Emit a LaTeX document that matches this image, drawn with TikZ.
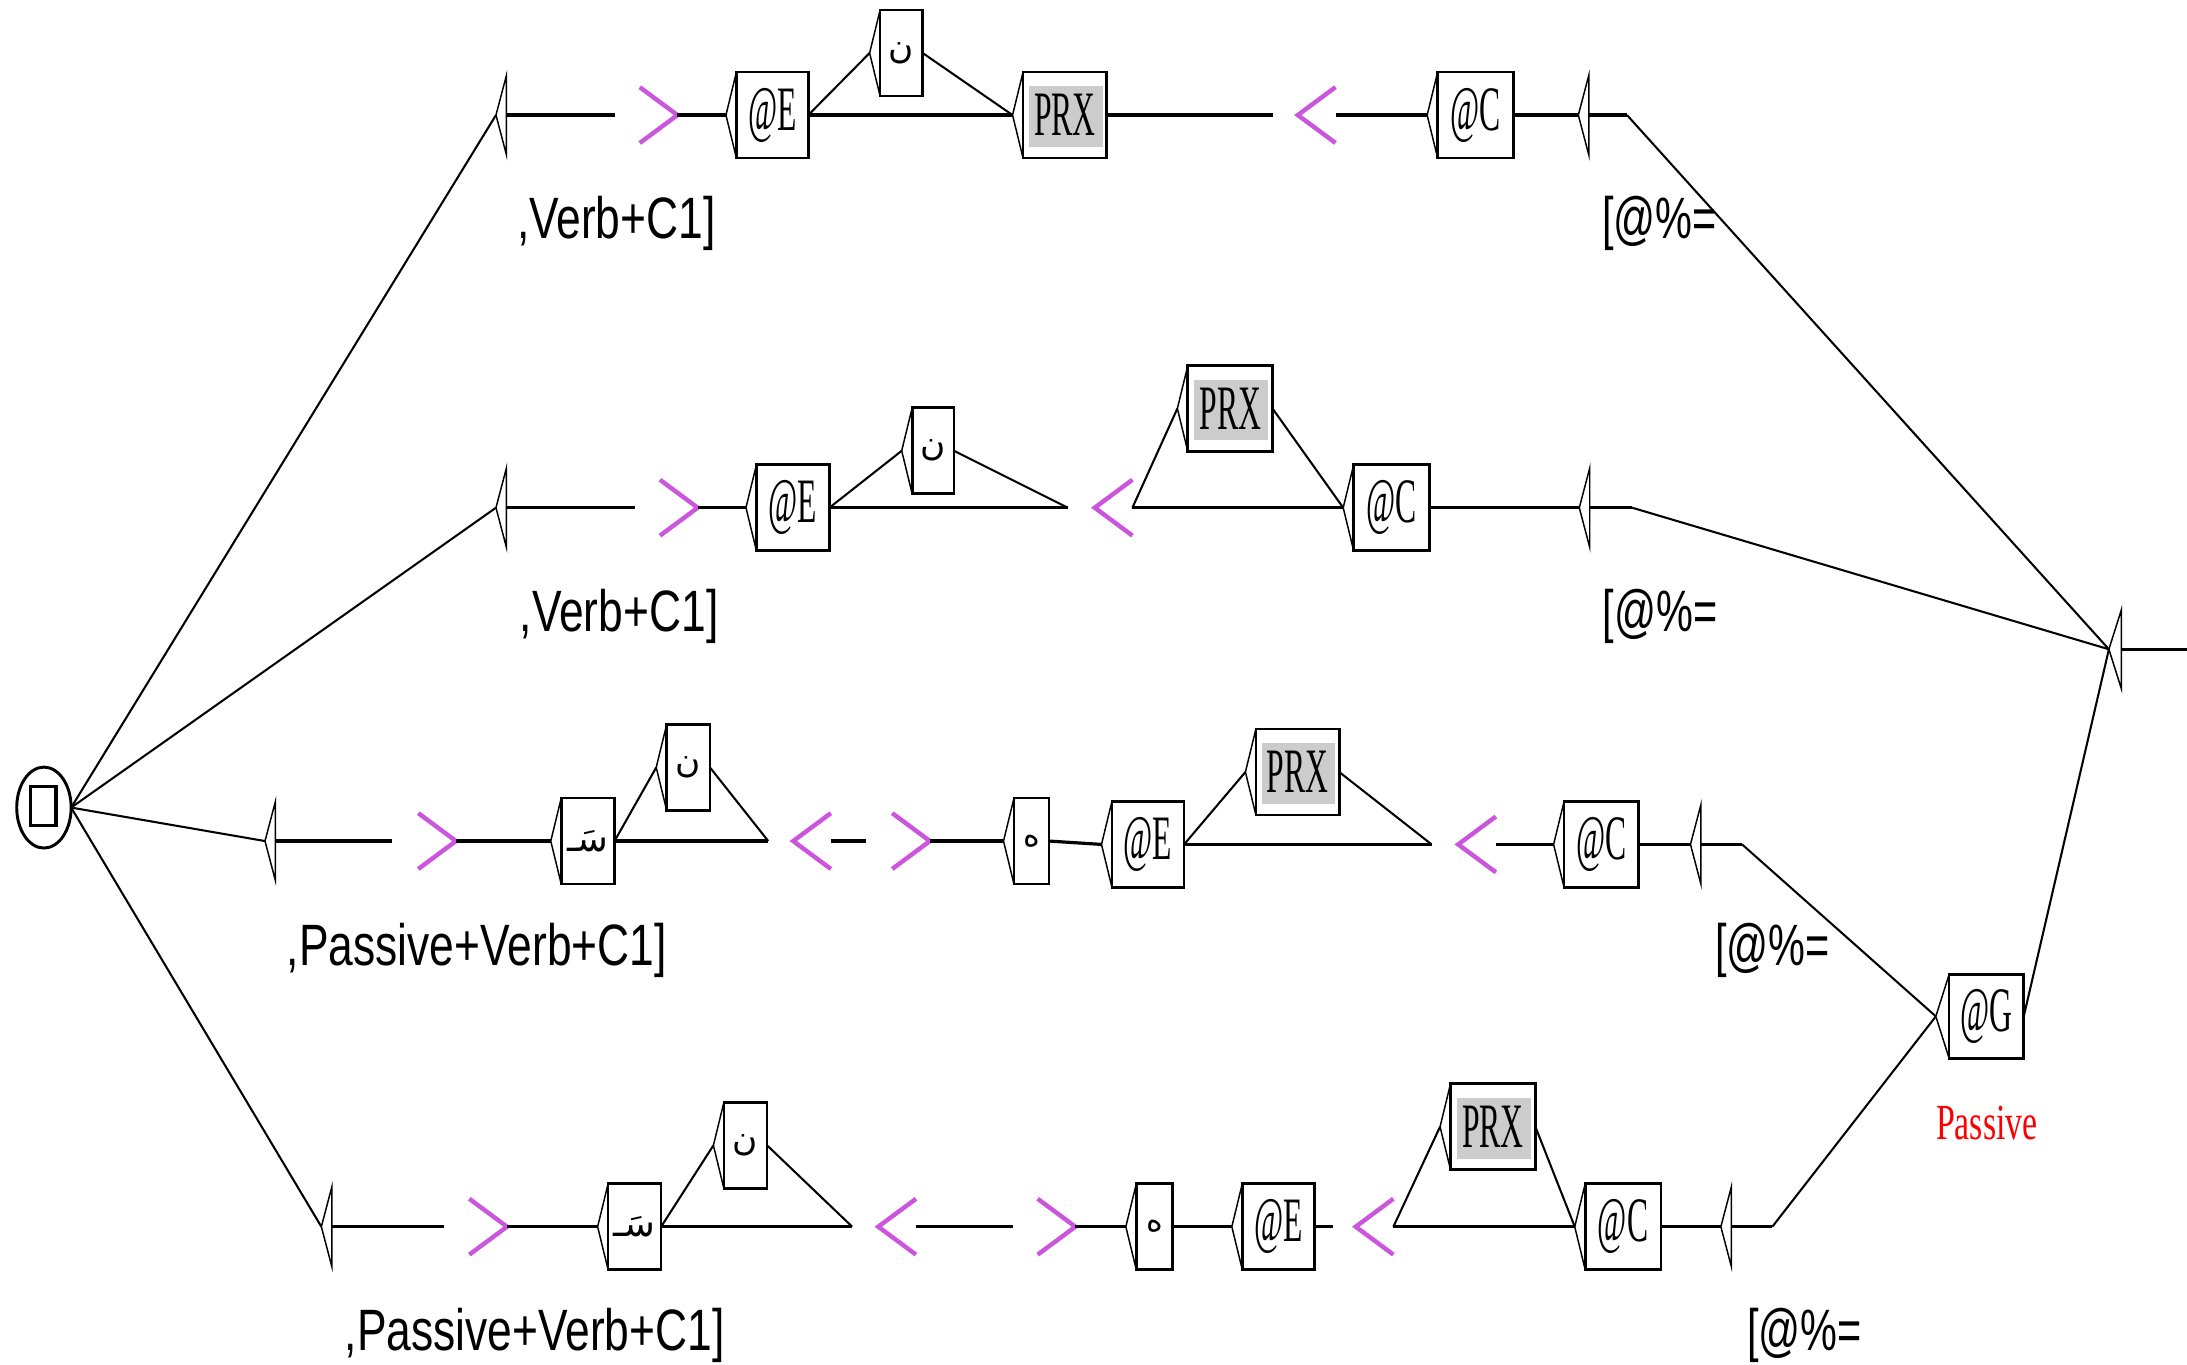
\documentclass[tikz,border=0pt]{standalone}
\usepackage{fontspec}
\usetikzlibrary{shapes.geometric}
\newfontfamily\outfont[FakeStretch=0.76]{Liberation Sans}
\newfontfamily\outfontb[FakeStretch=0.71]{Liberation Sans}
\newfontfamily\boxfont[FakeStretch=0.5]{Liberation Serif}
\newfontfamily\redfont[FakeStretch=0.67]{Liberation Serif}
\newfontfamily\arabicfont[Script=Arabic]{DejaVu Sans}
\TeXXeTstate=1
\definecolor{mpurple}{RGB}{204,85,221}
\definecolor{prxgray}{RGB}{204,204,204}
\newcommand\bx[5]{%
  \node[box, minimum width=#4] (#1) at (#2,#3) {#5};
  \coordinate (#1in) at ([xshift=-0.075cm]#1.west);
  \draw[tri] (#1.north west) -- (#1in) -- (#1.south west);}
\newcommand\abx[6]{%
  \node[box, font=\arabicfont\fontsize{#6}{8}\selectfont, minimum width=#4] (#1) at (#2,#3) {#5};
  \coordinate (#1in) at ([xshift=-0.075cm]#1.west);
  \draw[tri] (#1.north west) -- (#1in) -- (#1.south west);}
\newcommand\pbx[4]{%
  \node[box, minimum width=#4, path picture={\fill[prxgray] ([xshift=0.045cm,yshift=-0.10cm]path picture bounding box.north west) rectangle ([xshift=-0.03cm,yshift=0.08cm]path picture bounding box.south east);}] (#1) at (#2,#3) {PRX};
  \coordinate (#1in) at ([xshift=-0.075cm]#1.west);
  \draw[tri] (#1.north west) -- (#1in) -- (#1.south west);}
\newcommand\gtb[3]{%
  \node[brk] (#1) at (#2,#3) {};
  \draw[chev] (#1.north west) -- (#1.east) -- (#1.south west);}
\newcommand\ltb[3]{%
  \node[brk] (#1) at (#2,#3) {};
  \draw[chev] (#1.north east) -- (#1.west) -- (#1.south east);}
\newcommand\eb[4]{%
  \coordinate (#1in) at (#2,#3);
  \coordinate (#1v) at (#2+7.5,#3);
  \coordinate (#1out) at (#4,#3);
  \draw[tri] (#1in) -- (#2+7.5,#3-28.5) -- (#2+7.5,#3+28.5) -- cycle;
  \draw[hline] (#1v) -- (#1out);}
\begin{document}
\begin{tikzpicture}[x=0.01cm,y=-0.01cm,
  hline/.style={line width=0.65pt},
  sline/.style={line width=0.42pt},
  tri/.style={line width=0.3pt},
  box/.style={draw, line width=0.55pt, inner sep=0pt, outer sep=0pt, minimum height=0.616cm, font=\boxfont\fontsize{12.9}{13}\selectfont},
  brk/.style={inner sep=0pt, outer sep=0pt, minimum width=0.27cm, minimum height=0.40cm},
  chev/.style={draw=mpurple, line width=0.9pt},
  outtxt/.style={anchor=base west, inner sep=0pt, font=\outfont\fontsize{11.9}{12}\selectfont},
  outtxtb/.style={anchor=base west, inner sep=0pt, font=\outfontb\fontsize{11.9}{12}\selectfont},
]
\useasboundingbox (0,0) rectangle (1568,978);
\fill[white] (0,0) rectangle (1568,978);

% start state
\node[draw, ellipse, line width=0.6pt, minimum width=0.39cm, minimum height=0.58cm, inner sep=0pt, outer sep=0pt] (start) at (31.5,579) {};
\node[draw, line width=0.7pt, minimum width=0.18cm, minimum height=0.28cm, inner sep=0pt] (startsq) at (31,578) {};

% final state
\coordinate (finin) at (1512,465.5);
\coordinate (finv) at (1521,465.5);
\coordinate (finout) at (1568,465.5);
\draw[tri] (finin) -- (1521,437) -- (1521,494) -- cycle;
\draw[hline] (finv) -- (finout);

% ---------- row 1 ----------
\eb{ea1}{355.6}{82.5}{441}
\gtb{gt1}{472.2}{82.5}
\bx{E1}{553.75}{82.5}{0.515cm}{@E}
\abx{N1}{646.25}{38}{0.305cm}{\beginR ن\endR}{7}
\pbx{P1}{763.5}{82.5}{0.60cm}
\coordinate (p1end) at (913,82.5);
\ltb{lt1}{944}{82.5}
\bx{C1}{1057.9}{82.5}{0.543cm}{@C}
\eb{eb1}{1131.6}{82.5}{1166.5}
\draw[hline] (gt1.east) -- (E1in);
\draw[sline] (E1.east) -- (N1in);
\draw[sline] (N1.east) -- (P1in);
\draw[hline] (E1.east) -- (P1in);
\draw[hline] (P1.east) -- (p1end);
\draw[hline] (lt1.east) -- (C1in);
\draw[hline] (C1.east) -- (eb1in);
\draw[sline] (eb1out) -- (finin);
\node[outtxt] (oa1) at (370,171) {,Verb+C1]};
\node[outtxtb] (ob1) at (1148,171) {[@\%=};

% ---------- row 2 ----------
\eb{ea2}{355.6}{364}{455.3}
\gtb{gt2}{486.7}{364}
\bx{E2}{568.5}{364}{0.523cm}{@E}
\abx{N2}{669}{323.2}{0.30cm}{\beginR ن\endR}{7}
\coordinate (j2) at (765.6,364);
\ltb{lt2}{798.4}{364}
\pbx{P2}{882}{292.9}{0.607cm}
\bx{C2}{997.7}{364}{0.543cm}{@C}
\eb{eb2}{1132.3}{364}{1170.2}
\draw[hline] (gt2.east) -- (E2in);
\draw[sline] (E2.east) -- (N2in);
\draw[sline] (N2.east) -- (j2);
\draw[hline] (E2.east) -- (j2);
\draw[sline] (lt2.east) -- (P2in);
\draw[sline] (P2.east) -- (C2in);
\draw[hline] (lt2.east) -- (C2in);
\draw[hline] (C2.east) -- (eb2in);
\draw[sline] (eb2out) -- (finin);
\node[outtxt] (oa2) at (372,453) {,Verb+C1]};
\node[outtxtb] (ob2) at (1148.5,453) {[@\%=};

% ---------- row 3 ----------
\eb{ea3}{190}{603}{280.7}
\gtb{gt3a}{313.4}{603}
\abx{S3}{421.5}{603}{0.382cm}{\beginR سَـ\endR}{7.5}
\abx{N3}{493.5}{550.2}{0.31cm}{\beginR ن\endR}{7}
\coordinate (j3a) at (550.8,603);
\ltb{lt3a}{582.2}{603}
\coordinate (d3) at (621,603);
\gtb{gt3b}{653.2}{603}
\abx{H3}{739.5}{603}{0.25cm}{\beginR ه\endR}{6.5}
\bx{E3}{823.1}{605.4}{0.517cm}{@E}
\pbx{P3}{930.3}{553.5}{0.597cm}
\coordinate (j3b) at (1026.4,605.4);
\ltb{lt3b}{1059}{605.4}
\bx{C3}{1148}{605.4}{0.532cm}{@C}
\eb{eb3}{1212}{605.4}{1249}
\draw[hline] (gt3a.east) -- (S3in);
\draw[sline] (S3.east) -- (N3in);
\draw[sline] (N3.east) -- (j3a);
\draw[hline] (S3.east) -- (j3a);
\draw[hline] (lt3a.east) -- (d3);
\draw[hline] (gt3b.east) -- (H3in);
\draw[hline] (H3.east) -- (E3in);
\draw[sline] (E3.east) -- (P3in);
\draw[sline] (P3.east) -- (j3b);
\draw[hline] (E3.east) -- (j3b);
\draw[hline] (lt3b.east) -- (C3in);
\draw[hline] (C3.east) -- (eb3in);
\node[outtxt] (oa3) at (205,692) {,Passive+Verb+C1]};
\node[outtxtb] (ob3) at (1229,692) {[@\%=};

% ---------- row 4 ----------
\eb{ea4}{230.4}{879.5}{318}
\gtb{gt4a}{350}{879.5}
\abx{S4}{455}{879.5}{0.38cm}{\beginR سَـ\endR}{7.5}
\abx{N4}{534.5}{821.2}{0.31cm}{\beginR ن\endR}{7}
\coordinate (j4a) at (611,879.5);
\ltb{lt4a}{643.2}{879.5}
\coordinate (d4) at (726,879.5);
\gtb{gt4b}{757.5}{879.5}
\abx{H4}{827.7}{879.5}{0.26cm}{\beginR ه\endR}{6.5}
\bx{E4}{916.5}{879.5}{0.516cm}{@E}
\coordinate (d4b) at (955.8,879.5);
\ltb{lt4b}{985.5}{879.5}
\pbx{P4}{1070.4}{807.8}{0.608cm}
\bx{C4}{1163.7}{879.5}{0.543cm}{@C}
\eb{eb4}{1233.8}{879.5}{1270.7}
\draw[hline] (gt4a.east) -- (S4in);
\draw[sline] (S4.east) -- (N4in);
\draw[sline] (N4.east) -- (j4a);
\draw[hline] (S4.east) -- (j4a);
\draw[hline] (lt4a.east) -- (d4);
\draw[hline] (gt4b.east) -- (H4in);
\draw[hline] (H4.east) -- (E4in);
\draw[hline] (E4.east) -- (d4b);
\draw[sline] (lt4b.east) -- (P4in);
\draw[sline] (P4.east) -- (C4in);
\draw[hline] (lt4b.east) -- (C4in);
\draw[hline] (C4.east) -- (eb4in);
\node[outtxt] (oa4) at (246.5,968.5) {,Passive+Verb+C1]};
\node[outtxtb] (ob4) at (1252,968.5) {[@\%=};

% ---------- @G and connections ----------
\node[box, minimum width=0.535cm, minimum height=0.60cm] (G) at (1424.2,728.7) {@G};
\coordinate (Gin) at ([xshift=-0.095cm]G.west);
\draw[tri] (G.north west) -- (Gin) -- (G.south west);
\node[anchor=base, inner sep=0pt, text=red, font=\redfont\fontsize{10.3}{11}\selectfont] (passlbl) at (1424.5,817) {Passive};
\draw[sline] (eb3out) -- (Gin);
\draw[sline] (eb4out) -- (Gin);
\draw[sline] (G.east) -- (finin);

% ---------- start connections ----------
\draw[sline] (start.east) -- (ea1in);
\draw[sline] (start.east) -- (ea2in);
\draw[sline] (start.east) -- (ea3in);
\draw[sline] (start.east) -- (ea4in);
\end{tikzpicture}
\end{document}
